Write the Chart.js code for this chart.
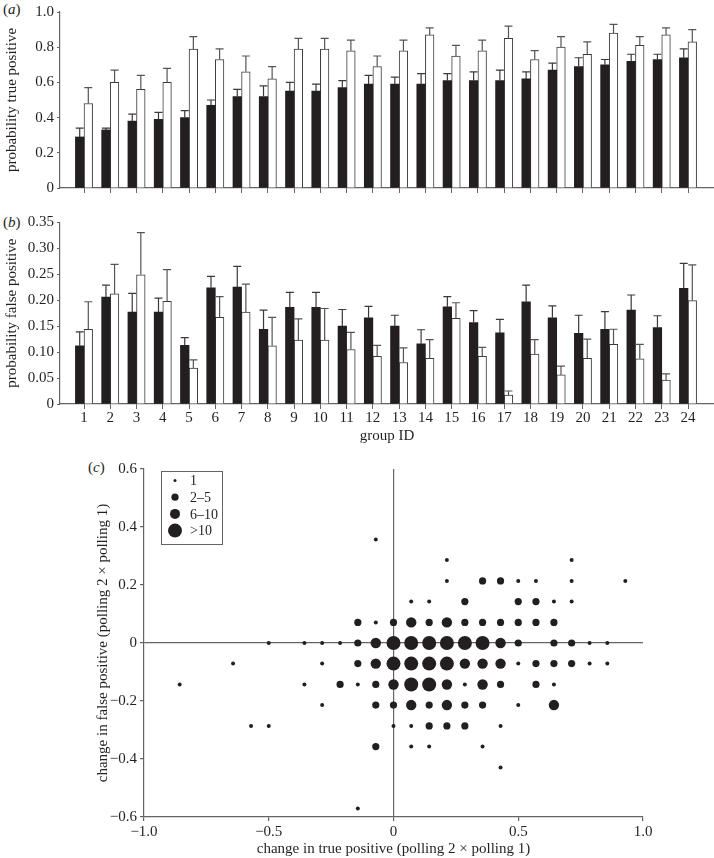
<!DOCTYPE html>
<html>
<head>
<meta charset="utf-8">
<script src="https://cdn.jsdelivr.net/npm/chart.js@4"></script>
<style>
  body { margin: 0; background: #fff; width: 714px; height: 858px; position: relative; overflow: hidden;
         font-family: "Liberation Serif", "Times New Roman", serif; color: #231f20; }
  canvas { position: absolute; left: 0; }
  .tag { position: absolute; font-size: 15px; line-height: 16px; }
</style>
</head>
<body>
<div class="tag" style="left:3px;top:1px">(<i>a</i>)</div>
<div class="tag" style="left:3px;top:214px">(<i>b</i>)</div>
<div class="tag" style="left:88px;top:459px">(<i>c</i>)</div>
<canvas id="tpChart" width="714" height="200" style="top:0"></canvas>
<canvas id="fpChart" width="714" height="245" style="top:200px"></canvas>
<canvas id="changeChart" width="714" height="413" style="top:445px"></canvas>
<script>
// group IDs (x categories for panels a and b)
const groupIds = [1, 2, 3, 4, 5, 6, 7, 8, 9, 10, 11, 12, 13, 14, 15, 16, 17, 18, 19, 20, 21, 22, 23, 24];

// (a) probability true positive, polling 1 (black) and polling 2 (white), with upper error ends
const tpPolling1 = [0.29, 0.33, 0.38, 0.39, 0.40, 0.47, 0.52, 0.52, 0.55, 0.55, 0.57, 0.59, 0.59, 0.59, 0.61, 0.61, 0.61, 0.62, 0.67, 0.69, 0.70, 0.72, 0.73, 0.74];
const tpPolling1Up = [0.34, 0.34, 0.42, 0.43, 0.44, 0.50, 0.56, 0.58, 0.60, 0.59, 0.61, 0.64, 0.63, 0.65, 0.65, 0.66, 0.67, 0.66, 0.71, 0.74, 0.73, 0.76, 0.76, 0.79];
const tpPolling2 = [0.48, 0.60, 0.56, 0.60, 0.79, 0.73, 0.66, 0.62, 0.79, 0.79, 0.78, 0.69, 0.78, 0.87, 0.75, 0.78, 0.85, 0.73, 0.80, 0.76, 0.88, 0.81, 0.87, 0.83];
const tpPolling2Up = [0.57, 0.67, 0.64, 0.68, 0.86, 0.79, 0.75, 0.69, 0.85, 0.85, 0.84, 0.75, 0.84, 0.91, 0.81, 0.84, 0.92, 0.78, 0.86, 0.83, 0.93, 0.86, 0.91, 0.90];

// (b) probability false positive
const fpPolling1 = [0.112, 0.206, 0.177, 0.177, 0.113, 0.224, 0.225, 0.144, 0.186, 0.186, 0.150, 0.166, 0.150, 0.116, 0.187, 0.157, 0.137, 0.197, 0.166, 0.136, 0.144, 0.181, 0.147, 0.223];
const fpPolling1Up = [0.139, 0.229, 0.213, 0.204, 0.128, 0.246, 0.265, 0.181, 0.215, 0.215, 0.182, 0.188, 0.171, 0.143, 0.207, 0.180, 0.163, 0.229, 0.189, 0.171, 0.178, 0.210, 0.170, 0.271];
const fpPolling2 = [0.144, 0.212, 0.249, 0.198, 0.069, 0.167, 0.177, 0.112, 0.123, 0.123, 0.105, 0.092, 0.080, 0.088, 0.165, 0.092, 0.017, 0.096, 0.056, 0.088, 0.115, 0.087, 0.046, 0.199];
const fpPolling2Up = [0.197, 0.269, 0.330, 0.259, 0.085, 0.207, 0.231, 0.167, 0.164, 0.184, 0.138, 0.113, 0.108, 0.124, 0.195, 0.109, 0.025, 0.124, 0.073, 0.125, 0.144, 0.115, 0.058, 0.268];

// (c) change in true positive (x) vs change in false positive (y), grouped by number of birds
const sizeLabels = ['1', '2\u20135', '6\u201310', '>10'];
const countOne = [
  [-0.071, 0.357], [0.214, 0.286], [0.714, 0.286],
  [0.214, 0.214], [0.5, 0.214], [0.571, 0.214], [0.714, 0.214], [0.929, 0.214],
  [0.071, 0.143], [0.143, 0.143], [0.643, 0.143], [0.714, 0.143],
  [-0.071, 0.071],
  [-0.5, 0], [-0.357, 0], [-0.286, 0], [-0.214, 0], [0.786, 0], [0.857, 0],
  [-0.643, -0.071], [-0.286, -0.071], [0.5, -0.071], [0.786, -0.071], [0.857, -0.071],
  [-0.857, -0.143], [-0.357, -0.143], [-0.143, -0.143], [0.286, -0.143], [0.643, -0.143],
  [-0.286, -0.214], [0.5, -0.214],
  [-0.571, -0.286], [-0.5, -0.286], [0, -0.286], [0.071, -0.286], [0.429, -0.286],
  [0.071, -0.357], [0.143, -0.357], [0.357, -0.357],
  [0.429, -0.429],
  [-0.143, -0.571]
];
const countTwoToFive = [
  [0.357, 0.214], [0.429, 0.214],
  [0.286, 0.143], [0.5, 0.143], [0.571, 0.143],
  [-0.143, 0.071], [0, 0.071], [0.143, 0.071], [0.286, 0.071], [0.357, 0.071], [0.429, 0.071], [0.5, 0.071], [0.571, 0.071], [0.643, 0.071],
  [-0.143, 0], [0.5, 0], [0.643, 0], [0.714, 0],
  [-0.143, -0.071], [0.571, -0.071], [0.643, -0.071], [0.714, -0.071],
  [-0.214, -0.143], [-0.071, -0.143], [0.429, -0.143], [0.571, -0.143],
  [-0.071, -0.214], [0, -0.214], [0.143, -0.214], [0.286, -0.214], [0.357, -0.214],
  [0.143, -0.286], [0.214, -0.286], [0.286, -0.286],
  [-0.071, -0.357]
];
const countSixToTen = [
  [0.071, 0.071], [0.214, 0.071],
  [-0.071, 0], [0.429, 0],
  [-0.071, -0.071], [0.286, -0.071], [0.357, -0.071], [0.429, -0.071],
  [0, -0.143], [0.214, -0.143], [0.357, -0.143],
  [0.071, -0.214], [0.214, -0.214], [0.643, -0.214]
];
const countOverTen = [
  [0, 0], [0.071, 0], [0.143, 0], [0.214, 0], [0.286, 0], [0.357, 0],
  [0, -0.071], [0.071, -0.071], [0.143, -0.071], [0.214, -0.071],
  [0.071, -0.143], [0.143, -0.143]
];

const serif = '"Liberation Serif", "Times New Roman", serif';
const ink = '#231f20';
const axisGrey = '#636466';
Chart.defaults.font.family = serif;
Chart.defaults.font.size = 15;
Chart.defaults.color = ink;

// draws the upper error whisker of every bar
const errorBars = {
  id: 'errorBars',
  afterDatasetsDraw(chart) {
    const ctx = chart.ctx;
    const yScale = chart.scales.y;
    chart.data.datasets.forEach((ds, di) => {
      if (!ds.errTop) return;
      const meta = chart.getDatasetMeta(di);
      ctx.save();
      ctx.strokeStyle = ds.errColor;
      ctx.lineWidth = 1.2;
      meta.data.forEach((bar, i) => {
        const yTop = yScale.getPixelForValue(ds.errTop[i]);
        const yBar = yScale.getPixelForValue(ds.data[i].y);
        ctx.beginPath();
        ctx.moveTo(bar.x, yBar);
        ctx.lineTo(bar.x, yTop);
        ctx.moveTo(bar.x - 4, yTop);
        ctx.lineTo(bar.x + 4, yTop);
        ctx.stroke();
      });
      ctx.restore();
    });
  }
};

// boxed key for point sizes in panel c
const sizeKey = {
  id: 'sizeKey',
  afterDraw(chart) {
    const { ctx, chartArea } = chart;
    const x0 = chartArea.left + 17, y0 = chartArea.top + 2;
    ctx.save();
    ctx.strokeStyle = axisGrey;
    ctx.lineWidth = 1;
    ctx.strokeRect(x0 + 0.5, y0 + 0.5, 61, 73);
    ctx.font = '14px ' + serif;
    ctx.textBaseline = 'middle';
    ctx.fillStyle = ink;
    chart.data.datasets.forEach((ds, i) => {
      const y = y0 + 9.5 + i * 16.7;
      ctx.beginPath();
      ctx.arc(x0 + 14, y, ds.keyRadius, 0, Math.PI * 2);
      ctx.fill();
      ctx.fillText(ds.label, x0 + 29, y + 1);
    });
    ctx.restore();
  }
};

const keepGroups = s => {
  s.ticks = s.ticks.filter(t => Math.abs(t.value - Math.round(t.value)) < 1e-6 && t.value >= 1 && t.value <= 24);
};

const barPanel = (canvasId, black, blackUp, white, whiteUp, yMax, yStep, digits, yTitle, showLabels, topPad, xHeight) => {
  new Chart(document.getElementById(canvasId), {
    type: 'bar',
    data: {
      datasets: [
        { label: 'polling 1', data: groupIds.map((g, i) => ({ x: g, y: black[i] })),
          backgroundColor: ink, borderWidth: 0, errTop: blackUp, errColor: '#3a3a3a' },
        { label: 'polling 2', data: groupIds.map((g, i) => ({ x: g, y: white[i] })),
          backgroundColor: '#fff', borderColor: '#3a3a3a', borderWidth: 1, errTop: whiteUp, errColor: '#555' }
      ]
    },
    options: {
      responsive: false,
      animation: false,
      layout: { padding: { top: topPad, right: 0, bottom: 0, left: 0 } },
      datasets: { bar: { barThickness: 8.6 } },
      plugins: { legend: { display: false }, tooltip: { enabled: false } },
      scales: {
        x: {
          type: 'linear', min: 0.086, max: 24.99, offset: false,
          ticks: { stepSize: 1, includeBounds: false, display: showLabels, padding: 0, maxRotation: 0, autoSkip: false,
                   callback: v => String(Math.round(v)) },
          grid: { offset: false, drawOnChartArea: false, tickLength: 5, tickColor: axisGrey },
          border: { color: axisGrey, width: 1.2 },
          title: { display: showLabels, text: 'group ID', padding: { top: 0, bottom: 0 } },
          afterBuildTicks: keepGroups,
          afterFit: s => { s.height = xHeight; }
        },
        y: {
          min: 0, max: yMax,
          ticks: { stepSize: yStep, padding: 3, callback: v => v === 0 ? '0' : v.toFixed(digits) },
          grid: { drawOnChartArea: false, tickLength: 3, tickColor: axisGrey },
          border: { color: axisGrey, width: 1.2 },
          title: { display: true, text: yTitle, padding: { top: 3, bottom: 0 } },
          afterFit: s => { s.width = 60; }
        }
      }
    },
    plugins: [errorBars]
  });
};

barPanel('tpChart', tpPolling1, tpPolling1Up, tpPolling2, tpPolling2Up, 1, 0.2, 1, 'probability true positive', false, 7, 8);
barPanel('fpChart', fpPolling1, fpPolling1Up, fpPolling2, fpPolling2Up, 0.35, 0.05, 2, 'probability false positive', true, 22.3, 41);

const signed = v => {
  if (Math.abs(v) < 1e-9) return '0';
  return (v < 0 ? '\u2212' : '') + Math.abs(v).toFixed(1);
};
const zeroLine = ctx => (ctx.tick && Math.abs(ctx.tick.value) < 1e-9) ? axisGrey : 'rgba(0,0,0,0)';
const toPoints = arr => arr.map(p => ({ x: p[0], y: p[1] }));

new Chart(document.getElementById('changeChart'), {
  type: 'scatter',
  data: {
    datasets: [
      { label: sizeLabels[0], data: toPoints(countOne), pointRadius: 2, keyRadius: 1.5, backgroundColor: ink, borderWidth: 0 },
      { label: sizeLabels[1], data: toPoints(countTwoToFive), pointRadius: 3.6, keyRadius: 3.6, backgroundColor: ink, borderWidth: 0 },
      { label: sizeLabels[2], data: toPoints(countSixToTen), pointRadius: 5.2, keyRadius: 5, backgroundColor: ink, borderWidth: 0 },
      { label: sizeLabels[3], data: toPoints(countOverTen), pointRadius: 7, keyRadius: 7, backgroundColor: ink, borderWidth: 0 }
    ]
  },
  options: {
    responsive: false,
    animation: false,
    layout: { padding: { top: 24, right: 71, bottom: 0, left: 91 } },
    plugins: { legend: { display: false }, tooltip: { enabled: false } },
    scales: {
      x: {
        min: -1, max: 1,
        ticks: { stepSize: 0.5, padding: 2, maxRotation: 0, callback: v => signed(v) },
        grid: { color: zeroLine, lineWidth: 1.2, tickLength: 4, tickColor: axisGrey },
        border: { color: axisGrey, width: 1.2 },
        title: { display: true, text: 'change in true positive (polling 2 \u00d7 polling 1)', padding: { top: 0, bottom: 0 } },
        afterFit: s => { s.height = 41; }
      },
      y: {
        min: -0.6, max: 0.6,
        ticks: { stepSize: 0.2, padding: 3, callback: v => signed(v) },
        grid: { color: zeroLine, lineWidth: 1.2, tickLength: 4, tickColor: axisGrey },
        border: { color: axisGrey, width: 1.2 },
        title: { display: true, text: 'change in false positive (polling 2 \u00d7 polling 1)', padding: { top: 3, bottom: 0 } },
        afterFit: s => { s.width = 53; }
      }
    }
  },
  plugins: [sizeKey]
});
</script>
</body>
</html>
